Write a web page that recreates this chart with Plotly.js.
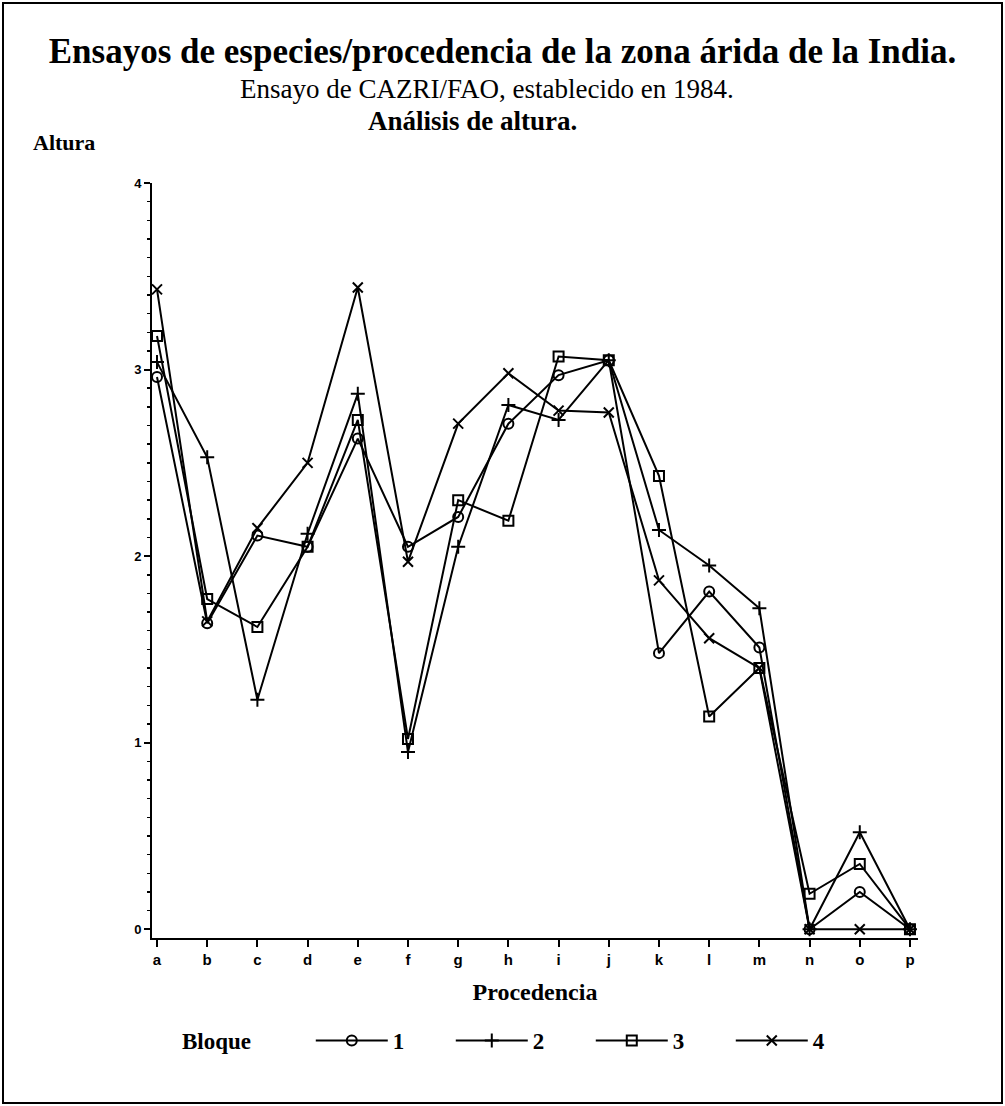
<!DOCTYPE html>
<html>
<head>
<meta charset="utf-8">
<script src="https://cdn.plot.ly/plotly-3.0.1.min.js"></script>
<style>
  html, body { margin: 0; padding: 0; background: #fff; }
  #wrap { position: relative; width: 1005px; height: 1106px; }
  #chart { width: 1005px; height: 1106px; }
  #frame { position: absolute; left: 2px; top: 2px; width: 997px; height: 1098px;
           border: 2px solid #000; pointer-events: none; }
</style>
</head>
<body>
<div id="wrap"><div id="chart"></div><div id="frame"></div></div>
<script>
const categories = ['a','b','c','d','e','f','g','h','i','j','k','l','m','n','o','p'];
const bloque1 = [2.96, 1.64, 2.11, 2.05, 2.63, 2.05, 2.21, 2.71, 2.97, 3.05, 1.48, 1.81, 1.51, 0.00, 0.20, 0.00];
const bloque2 = [3.04, 2.53, 1.23, 2.12, 2.87, 0.95, 2.05, 2.81, 2.73, 3.05, 2.14, 1.95, 1.72, 0.00, 0.52, 0.00];
const bloque3 = [3.18, 1.77, 1.62, 2.05, 2.73, 1.02, 2.30, 2.19, 3.07, 3.05, 2.43, 1.14, 1.40, 0.19, 0.35, 0.00];
const bloque4 = [3.43, 1.65, 2.15, 2.50, 3.44, 1.97, 2.71, 2.98, 2.78, 2.77, 1.87, 1.56, 1.40, 0.00, 0.00, 0.00];
const seriesNames = ['1', '2', '3', '4'];
const yTicks = [0, 1, 2, 3, 4];

const serif = 'Liberation Serif, Times New Roman, serif';
const sans = 'Liberation Sans, Arial, sans-serif';
const symbols = ['circle-open', 'cross-thin-open', 'square-open', 'x-thin-open'];
const allSeries = [bloque1, bloque2, bloque3, bloque4];

const traces = allSeries.map((vals, i) => ({
  type: 'scatter',
  mode: 'lines+markers',
  x: categories,
  y: vals,
  name: seriesNames[i],
  line: { color: '#000', width: 2 },
  marker: { symbol: symbols[i], size: 10, color: '#000', line: { color: '#000', width: 2 } },
  cliponaxis: false
}));

const sp = '&nbsp;';
const layout = {
  width: 1005,
  height: 1106,
  paper_bgcolor: '#fff',
  plot_bgcolor: '#fff',
  margin: { l: 152, r: 87, t: 183, b: 168 },
  title: {
    text: '<b>Ensayos de especies/procedencia de la zona árida de la India.</b>',
    font: { family: serif, size: 35, color: '#000' },
    x: 0.5, xref: 'container', xanchor: 'center',
    y: 1 - 51 / 1106, yref: 'container', yanchor: 'middle'
  },
  annotations: [
    { text: 'Ensayo de CAZRI/FAO, establecido en 1984.', xref: 'paper', yref: 'paper',
      x: (487 - 152) / 766, y: 1 + (183 - 89) / 755, xanchor: 'center', yanchor: 'middle',
      showarrow: false, font: { family: serif, size: 27, color: '#000' } },
    { text: '<b>Análisis de altura.</b>', xref: 'paper', yref: 'paper',
      x: (472 - 152) / 766, y: 1 + (183 - 121) / 755, xanchor: 'center', yanchor: 'middle',
      showarrow: false, font: { family: serif, size: 27, color: '#000' } },
    { text: '<b>Altura</b>', xref: 'paper', yref: 'paper',
      x: (31 - 152) / 766, y: 1 + (183 - 143) / 755, xanchor: 'left', yanchor: 'middle',
      showarrow: false, font: { family: serif, size: 22, color: '#000' } }
  ],
  xaxis: {
    type: 'category',
    range: [-0.0996, 15.16],
    showgrid: false, zeroline: false,
    showline: true, linecolor: '#000', linewidth: 2,
    ticks: 'outside', ticklen: 7, tickwidth: 2, tickcolor: '#000',
    tickfont: { family: sans, size: 15, color: '#000', weight: 'bold' },
    title: { text: '<b>Procedencia</b>', font: { family: serif, size: 24, color: '#000' }, standoff: 16 }
  },
  yaxis: {
    range: [-0.047, 4],
    tickvals: yTicks,
    ticktext: yTicks.map(String),
    showgrid: false, zeroline: false,
    showline: true, linecolor: '#000', linewidth: 2,
    ticks: 'outside', ticklen: 6, tickwidth: 2, tickcolor: '#000',
    tickfont: { family: sans, size: 13, color: '#000', weight: 'bold' },
    minor: { dtick: 0.1, tick0: 0, ticks: 'outside', ticklen: 3, tickwidth: 1.5, tickcolor: '#000', showgrid: false }
  },
  showlegend: true,
  legend: {
    orientation: 'h',
    x: (180 - 152) / 766, xanchor: 'left',
    y: -(1040 - 937.5) / 755, yanchor: 'middle',
    font: { family: serif, size: 23, color: '#000', weight: 'bold' },
    title: { text: '<b>Bloque</b>' + sp.repeat(9), font: { family: serif, size: 23, color: '#000' }, side: 'left' },
    entrywidth: 53, entrywidthmode: 'pixels',
    itemwidth: 72,
    bgcolor: 'rgba(0,0,0,0)'
  }
};

Plotly.newPlot('chart', traces, layout, { displayModeBar: false, staticPlot: true });
</script>
</body>
</html>
